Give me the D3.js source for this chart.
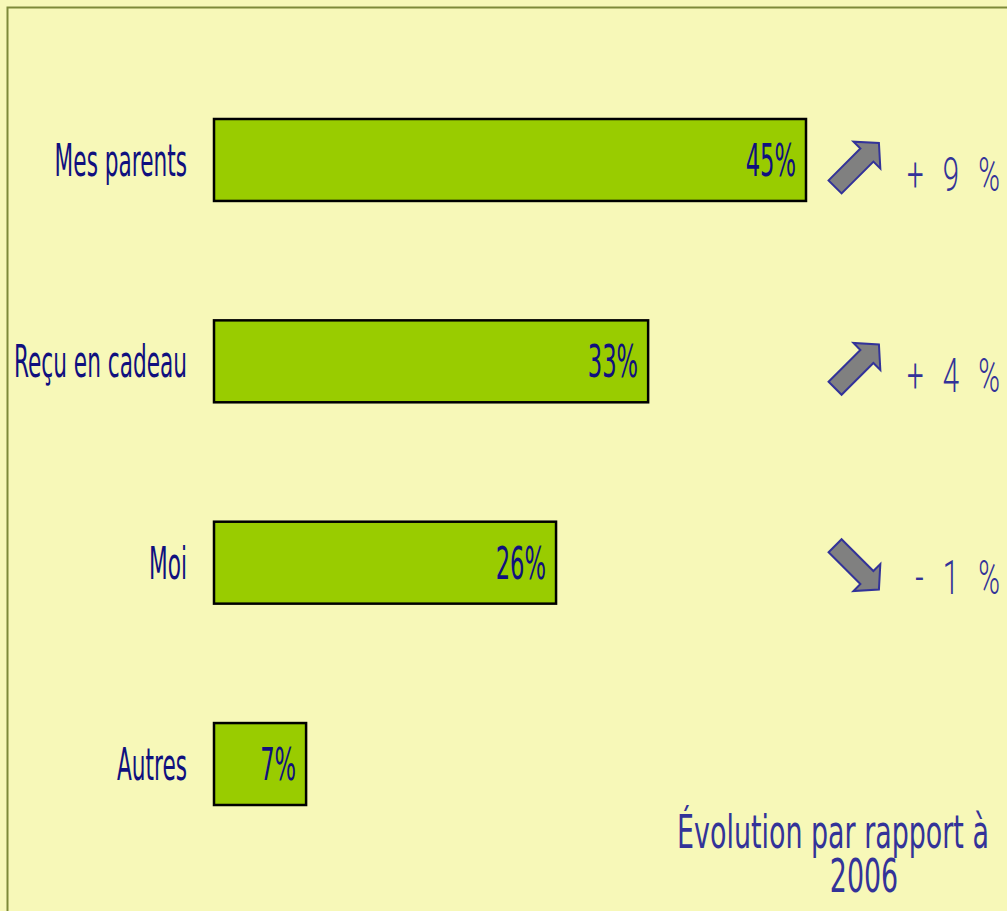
<!DOCTYPE html>
<html>
<head>
<meta charset="utf-8">
<script src="https://cdn.jsdelivr.net/npm/d3@7"></script>
<style>
  html, body { margin: 0; padding: 0; background: #f7f8b8; }
  svg { display: block; }
</style>
</head>
<body>
<svg id="chart" width="1007" height="911"></svg>
<script>
// Who pays for it — share of answers, with change since 2006
const categories = ["Mes parents", "Reçu en cadeau", "Moi", "Autres"];
const shares = [45, 33, 26, 7];
const changes = [9, 4, -1];
const changeLabels = ["+ 9 %", "+ 4 %", "- 1 %"];
const noteLines = ["Évolution par rapport à", "2006"];

const W = 1007, H = 911;
const navy = "#10107f";
const blue = "#333399";
const condensed = "'Liberation Sans Narrow', 'DejaVu Sans Condensed', 'Liberation Sans', sans-serif";

const svg = d3.select("#chart");

// panel
svg.append("rect").attr("width", W).attr("height", H).attr("fill", "#f7f8b8");
svg.append("rect")
  .attr("x", 7.5).attr("y", 7.5).attr("width", W + 10).attr("height", H + 10)
  .attr("fill", "#f7f8b8").attr("stroke", "#7e8a3a").attr("stroke-width", 2);

const x = d3.scaleLinear().domain([0, 45]).range([214, 806]);
const y = d3.scaleBand().domain(categories).range([119, 805])
  .paddingInner(0.593).paddingOuter(0);

// bars
svg.selectAll("rect.bar").data(categories).join("rect")
  .attr("class", "bar")
  .attr("x", x(0))
  .attr("y", d => y(d))
  .attr("width", (d, i) => x(shares[i]) - x(0))
  .attr("height", y.bandwidth())
  .attr("fill", "#99cc00")
  .attr("stroke", "#000")
  .attr("stroke-width", 2.5);

// condensed text helper: horizontal squeeze around an anchor point
function squeezed(sel, sx) {
  return sel.attr("transform", function () {
    const tx = +this.getAttribute("data-x"), ty = +this.getAttribute("data-y");
    return `translate(${tx},${ty}) scale(${sx},1)`;
  });
}

// category labels
svg.selectAll("text.cat").data(categories).join("text")
  .attr("class", "cat")
  .attr("data-x", 187)
  .attr("data-y", d => y(d) + y.bandwidth() / 2 + 16)
  .attr("text-anchor", "end")
  .attr("font-family", condensed)
  .attr("font-size", 45)
  .attr("fill", navy)
  .text(d => d)
  .call(squeezed, 0.535);

// value labels inside bar ends
svg.selectAll("text.val").data(categories).join("text")
  .attr("class", "val")
  .attr("data-x", (d, i) => x(shares[i]) - 10)
  .attr("data-y", d => y(d) + y.bandwidth() / 2 + 16)
  .attr("text-anchor", "end")
  .attr("font-family", condensed)
  .attr("font-size", 45)
  .attr("fill", navy)
  .text((d, i) => shares[i] + "%")
  .call(squeezed, 0.56);

// trend arrows
const arrowPath = "M-31,-9.2 L14,-9.2 L14,-19 L31,0 L14,19 L14,9.2 L-31,9.2 Z";
const evo = changes.map((c, i) => ({ c, label: changeLabels[i], cat: categories[i] }));

svg.selectAll("path.arrow").data(evo).join("path")
  .attr("class", "arrow")
  .attr("d", arrowPath)
  .attr("transform", d => `translate(857,${y(d.cat) + y.bandwidth() / 2 + 5}) rotate(${d.c >= 0 ? -45 : 45})`)
  .attr("fill", "#808080")
  .attr("stroke", blue)
  .attr("stroke-width", 2)
  .attr("stroke-linejoin", "miter");

svg.selectAll("text.evo").data(evo).join("text")
  .attr("class", "evo")
  .attr("data-x", 1006)
  .attr("data-y", d => y(d.cat) + y.bandwidth() / 2 + 31)
  .attr("text-anchor", "end")
  .attr("font-family", "Roboto, 'Liberation Sans', sans-serif")
  .attr("font-weight", 300)
  .attr("font-size", 49)
  .attr("letter-spacing", 10)
  .attr("fill", blue)
  .text(d => d.label)
  .call(squeezed, 0.6);

// footnote, two centred lines in one text block
const noteSx = 0.65;
const noteX = [833, 864];
const note = svg.append("text")
  .attr("class", "note")
  .attr("data-x", noteX[0])
  .attr("data-y", 848)
  .attr("text-anchor", "middle")
  .attr("font-family", condensed)
  .attr("font-size", 46)
  .attr("fill", blue)
  .call(squeezed, noteSx);
note.selectAll("tspan").data(noteLines).join("tspan")
  .attr("x", (d, i) => (noteX[i] - noteX[0]) / noteSx)
  .attr("dy", (d, i) => i === 0 ? 0 : 44)
  .text(d => d);
</script>
</body>
</html>
